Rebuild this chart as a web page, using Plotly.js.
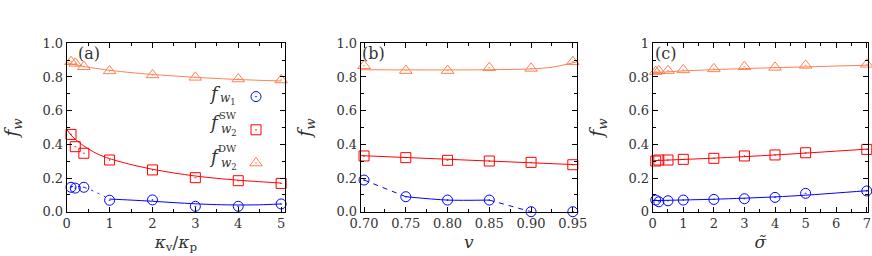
<!DOCTYPE html>
<html><head><meta charset="utf-8">
<script src="https://cdn.plot.ly/plotly-3.0.1.min.js"></script>
<style>html,body{margin:0;padding:0;background:#fff}</style>
</head><body><div id="chart" style="width:872px;height:256px"></div>
<script>
// ---------- panel (a): kappa_v / kappa_p ----------
const kappaRatio = [0.1, 0.2, 0.4, 1, 2, 3, 4, 5];
const a_fw1   = [0.145, 0.14, 0.145, 0.068, 0.07, 0.032, 0.032, 0.046];
const a_fw2SW = [0.459, 0.386, 0.347, 0.307, 0.248, 0.202, 0.184, 0.168];
const a_fw2DW = [0.891, 0.881, 0.861, 0.836, 0.812, 0.798, 0.788, 0.782];
// curves
const a_fw1DotX = [0.1, 0.4, 1];
const a_fw1DotY = [0.15, 0.145, 0.075];
const a_fw1FitX = [1, 1.5, 2, 2.5, 3, 3.5, 4, 4.5, 5];
const a_fw1FitY = [0.075, 0.069, 0.062, 0.054, 0.047, 0.042, 0.040, 0.041, 0.046];
const a_swFitX = [0, 0.1, 0.2, 0.4, 0.7, 1, 1.5, 2, 2.5, 3, 3.5, 4, 4.5, 5];
const a_swFitY = [0.49, 0.455, 0.43, 0.39, 0.345, 0.315, 0.28, 0.252, 0.23, 0.212, 0.198, 0.187, 0.178, 0.17];
const a_dwFitX = [0, 0.25, 0.5, 1, 1.5, 2, 3, 4, 5];
const a_dwFitY = [0.885, 0.87, 0.858, 0.84, 0.826, 0.815, 0.798, 0.785, 0.776];

// ---------- panel (b): v ----------
const vVals   = [0.70, 0.75, 0.80, 0.85, 0.90, 0.95];
const b_fw1   = [0.188, 0.089, 0.069, 0.069, 0.0, 0.0];
const b_fw2SW = [0.331, 0.321, 0.305, 0.301, 0.293, 0.279];
const b_fw2DW = [0.867, 0.838, 0.838, 0.855, 0.851, 0.891];
const b_fw1SolidX = [0.75, 0.80, 0.85];
const b_fw1SolidY = [0.089, 0.069, 0.069];
const b_fw1Dash1X = [0.70, 0.75];
const b_fw1Dash1Y = [0.188, 0.089];
const b_fw1Dash2X = [0.85, 0.90];
const b_fw1Dash2Y = [0.069, 0.0];
const b_swFitX = [0.696, 0.955];
const b_swFitY = [0.333, 0.279];
const b_dwFitX = [0.696, 0.75, 0.80, 0.85, 0.90, 0.925, 0.955];
const b_dwFitY = [0.843, 0.842, 0.842, 0.843, 0.848, 0.858, 0.89];

// ---------- panel (c): sigma tilde ----------
const sigmaVals = [0.1, 0.2, 0.5, 1, 2, 3, 4, 5, 7];
const c_fw1   = [0.069, 0.059, 0.065, 0.069, 0.073, 0.077, 0.085, 0.109, 0.123];
const c_fw2SW = [0.301, 0.307, 0.307, 0.311, 0.317, 0.331, 0.337, 0.350, 0.370];
const c_fw2DW = [0.832, 0.836, 0.838, 0.842, 0.848, 0.861, 0.857, 0.869, 0.875];
const c_fw1FitX = [0, 2, 4, 5, 7.04];
const c_fw1FitY = [0.066, 0.074, 0.088, 0.098, 0.125];
const c_swFitX = [0, 2, 4, 7.04];
const c_swFitY = [0.303, 0.318, 0.337, 0.372];
const c_dwFitX = [0, 1, 3, 5, 7.04];
const c_dwFitY = [0.825, 0.836, 0.85, 0.86, 0.87];

const yTickVals = [0, 0.2, 0.4, 0.6, 0.8, 1.0];
const yTickTextAB = ['0.0', '0.2', '0.4', '0.6', '0.8', '1.0'];
const yTickTextC = ['0', '0.2', '0.4', '0.6', '0.8', '1'];

const BLUE = '#0000ff', RED = '#ff0000', ORANGE = '#ff7f50';
const FONT = 'DejaVu Serif';
const TXT = '#333';

function line(x, y, color, xa, ya, dash) {
  return {x: x, y: y, type: 'scatter', mode: 'lines', xaxis: xa, yaxis: ya,
    line: {color: color, width: 1, dash: dash || 'solid', shape: 'spline', smoothing: 0.8},
    showlegend: false, hoverinfo: 'skip'};
}
function pts(x, y, color, sym, xa, ya, size) {
  return {x: x, y: y, type: 'scatter', mode: 'markers', xaxis: xa, yaxis: ya,
    marker: {symbol: sym, size: size, color: color, line: {color: color, width: 1}},
    showlegend: false, cliponaxis: false};
}

const traces = [
  // (a)
  line(a_dwFitX, a_dwFitY, ORANGE, 'x', 'y'),
  line(a_swFitX, a_swFitY, RED, 'x', 'y'),
  line(a_fw1DotX, a_fw1DotY, BLUE, 'x', 'y', '2px,5px'),
  line(a_fw1FitX, a_fw1FitY, BLUE, 'x', 'y'),
  pts(kappaRatio, a_fw2DW, ORANGE, 'triangle-up-open-dot', 'x', 'y', 11),
  pts(kappaRatio, a_fw2SW, RED, 'square-open-dot', 'x', 'y', 10),
  pts(kappaRatio, a_fw1, BLUE, 'circle-open-dot', 'x', 'y', 10),
  // (b)
  line(b_dwFitX, b_dwFitY, ORANGE, 'x2', 'y2'),
  line(b_swFitX, b_swFitY, RED, 'x2', 'y2'),
  line(b_fw1Dash1X, b_fw1Dash1Y, BLUE, 'x2', 'y2', '5px,5px'),
  line(b_fw1SolidX, b_fw1SolidY, BLUE, 'x2', 'y2'),
  line(b_fw1Dash2X, b_fw1Dash2Y, BLUE, 'x2', 'y2', '5px,5px'),
  pts(vVals, b_fw2DW, ORANGE, 'triangle-up-open-dot', 'x2', 'y2', 11),
  pts(vVals, b_fw2SW, RED, 'square-open-dot', 'x2', 'y2', 10),
  pts(vVals, b_fw1, BLUE, 'circle-open-dot', 'x2', 'y2', 10),
  // (c)
  line(c_dwFitX, c_dwFitY, ORANGE, 'x3', 'y3'),
  line(c_swFitX, c_swFitY, RED, 'x3', 'y3'),
  line(c_fw1FitX, c_fw1FitY, BLUE, 'x3', 'y3'),
  pts(sigmaVals, c_fw2DW, ORANGE, 'triangle-up-open-dot', 'x3', 'y3', 11),
  pts(sigmaVals, c_fw2SW, RED, 'square-open-dot', 'x3', 'y3', 10),
  pts(sigmaVals, c_fw1, BLUE, 'circle-open-dot', 'x3', 'y3', 10),
];

// legend entries (symbols only; labels are annotations to their left)
const legendSyms = [['circle-open-dot', BLUE, 10], ['square-open-dot', RED, 10], ['triangle-up-open-dot', ORANGE, 11]];
legendSyms.forEach((s, i) => {
  traces.push({x: [null], y: [null], type: 'scatter', mode: 'markers', xaxis: 'x', yaxis: 'y',
    name: ' ', legendgroup: 'g' + i, showlegend: true,
    marker: {symbol: s[0], size: s[2], color: s[1], line: {color: s[1], width: 1}}});
});

const W = 872, H = 256;
const px = v => v / W, py = v => 1 - v / H;
const yDom = [py(211.7), py(43.3)];

function xAxis(dom, range, dtick, minorDtick, fmt, title, anchor) {
  return {domain: dom, range: range, anchor: anchor, dtick: dtick, tick0: 0,
    tickformat: fmt, ticks: 'inside', ticklen: 5, tickwidth: 1, tickcolor: '#000',
    minor: {dtick: minorDtick, ticks: 'inside', ticklen: 3, tickwidth: 1, tickcolor: '#000'},
    showline: true, linecolor: '#000', linewidth: 1, mirror: 'allticks',
    showgrid: false, zeroline: false,
    tickfont: {family: FONT, size: 13, color: TXT},
    title: {text: title, font: {family: FONT, size: 17, color: TXT}, standoff: 5}};
}
function yAxis(anchor, ticktext) {
  return {domain: yDom, range: [0, 1], anchor: anchor,
    tickvals: yTickVals, ticktext: ticktext,
    ticks: 'inside', ticklen: 5, tickwidth: 1, tickcolor: '#000',
    minor: {dtick: 0.1, ticks: 'inside', ticklen: 3, tickwidth: 1, tickcolor: '#000'},
    showline: true, linecolor: '#000', linewidth: 1, mirror: 'allticks',
    showgrid: false, zeroline: false,
    tickfont: {family: FONT, size: 13, color: TXT},
    title: {text: '<i>f</i><sub><i>w</i></sub>', font: {family: FONT, size: 19, color: TXT}, standoff: 19}};
}

const ann = [];
function txt(x, y, t, size, xanchor) {
  ann.push({xref: 'paper', yref: 'paper', x: px(x), y: py(y), text: t, showarrow: false,
    xanchor: xanchor || 'left', yanchor: 'middle', font: {family: FONT, size: size, color: TXT}});
}
txt(76, 53, '(a)', 16);
txt(360, 53, '(b)', 16);
txt(653, 53, '(c)', 16);
// legend labels
txt(223, 93, '<i>f</i>', 18, 'right');
txt(238, 99, '<i>w</i><sub>1</sub>', 12, 'right');
txt(223, 122, '<i>f</i>', 18, 'right');
txt(239, 115, 'SW', 10, 'right');
txt(239, 130, '<i>w</i><sub>2</sub>', 12, 'right');
txt(223, 156, '<i>f</i>', 18, 'right');
txt(239, 148, 'DW', 10, 'right');
txt(239, 164, '<i>w</i><sub>2</sub>', 12, 'right');

const layout = {
  width: W, height: H, margin: {l: 0, r: 0, t: 0, b: 0},
  paper_bgcolor: '#fff', plot_bgcolor: '#fff',
  font: {family: FONT, color: TXT},
  xaxis: xAxis([px(66.7), px(285)], [0, 5.09], 1, 0.5, 'd', '<i>κ</i><sub>v</sub>/<i>κ</i><sub>p</sub>', 'y'),
  yaxis: yAxis('x', yTickTextAB),
  xaxis2: xAxis([px(360.7), px(577)], [0.696, 0.955], 0.05, 0.025, '.2f', '<i>v</i>', 'y2'),
  yaxis2: yAxis('x2', yTickTextAB),
  xaxis3: xAxis([px(652.7), px(868)], [0, 7.04], 1, 0.5, 'd', '<i>σ̃</i>', 'y3'),
  yaxis3: yAxis('x3', yTickTextC),
  legend: {x: px(236), y: py(81), xanchor: 'left', yanchor: 'top', bgcolor: 'rgba(0,0,0,0)',
    borderwidth: 0, font: {family: FONT, size: 14}, tracegroupgap: 12, itemwidth: 30},
  annotations: ann,
  showlegend: true
};
Plotly.newPlot('chart', traces, layout, {staticPlot: true, displayModeBar: false});
</script></body></html>
